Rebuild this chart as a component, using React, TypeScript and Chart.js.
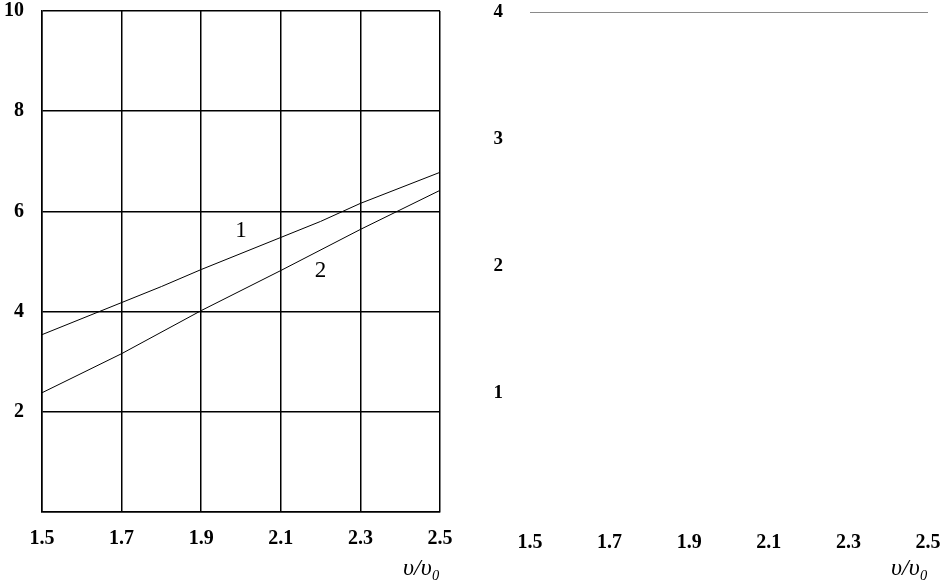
import React, { useEffect, useRef } from "react";
import { Chart, registerables } from "chart.js";

Chart.register(...registerables);

// ---- data ----
const curve1X = [1.5, 1.7, 1.8, 1.9, 2.1, 2.2, 2.3, 2.5];
const curve1Y = [3.54, 4.18, 4.5, 4.84, 5.48, 5.8, 6.16, 6.78];
const curve2X = [1.5, 1.7, 1.9, 2.1, 2.3, 2.5];
const curve2Y = [2.38, 3.16, 4.02, 4.82, 5.64, 6.42];
const xTicks = [1.5, 1.7, 1.9, 2.1, 2.3, 2.5];
const leftYTicks = [0, 2, 4, 6, 8, 10];
const rightYTicks = [0, 1, 2, 3, 4];
const curveLabels = ["1", "2"];
const curveLabelX = [2.0, 2.2];
const curveLabelY = [5.6, 4.82];
const axisTitle = "υ/υ₀";

const SERIF = "'Liberation Serif', 'Times New Roman', 'DejaVu Serif', serif";

const labelPlugin = {
  id: "curveLabels",
  afterDatasetsDraw(chart: any) {
    const { ctx, scales } = chart;
    ctx.save();
    ctx.fillStyle = "#000";
    ctx.font = `23px ${SERIF}`;
    ctx.textAlign = "center";
    ctx.textBaseline = "middle";
    curveLabels.forEach((t, i) => {
      ctx.fillText(t, scales.x.getPixelForValue(curveLabelX[i]), scales.y.getPixelForValue(curveLabelY[i]));
    });
    ctx.restore();
  },
};

function fixY(width: number) {
  return (s: any) => {
    s.width = width;
    s.paddingTop = 0;
    s.paddingBottom = 0;
  };
}
function fixX(height: number) {
  return (s: any) => {
    s.height = height;
    s.paddingLeft = 0;
    s.paddingRight = 0;
  };
}

function LeftChart() {
  const ref = useRef<HTMLCanvasElement>(null);
  useEffect(() => {
    const chart = new Chart(ref.current!, {
      type: "line",
      data: {
        datasets: [
          {
            data: curve1X.map((x, i) => ({ x, y: curve1Y[i] })),
            borderColor: "#000",
            borderWidth: 1,
            pointRadius: 0,
            tension: 0,
          },
          {
            data: curve2X.map((x, i) => ({ x, y: curve2Y[i] })),
            borderColor: "#000",
            borderWidth: 1,
            pointRadius: 0,
            tension: 0,
          },
        ],
      },
      options: {
        animation: false,
        responsive: false,
        layout: { padding: { left: 0, right: 20, top: 11, bottom: 0 } },
        plugins: { legend: { display: false }, tooltip: { enabled: false } },
        scales: {
          x: {
            type: "linear",
            min: 1.5,
            max: 2.5,
            afterBuildTicks: (s: any) => {
              s.ticks = xTicks.map((v) => ({ value: v }));
            },
            afterFit: fixX(71),
            ticks: {
              color: "#000",
              font: { family: SERIF, size: 20, weight: "bold" },
              padding: 15,
              maxRotation: 0,
              autoSkip: false,
              callback: (v: any) => Number(v).toFixed(1),
            },
            grid: { color: "#000", lineWidth: 1.5, drawTicks: false },
            border: { color: "#000", width: 1.5 },
            title: {
              display: true,
              text: axisTitle,
              align: "end",
              color: "#000",
              font: { family: SERIF, size: 24, style: "italic" },
              padding: { top: 0, bottom: 0 },
            },
          },
          y: {
            min: 0,
            max: 10,
            afterBuildTicks: (s: any) => {
              s.ticks = leftYTicks.map((v) => ({ value: v }));
            },
            afterFit: fixY(42),
            ticks: {
              color: "#000",
              font: { family: SERIF, size: 20, weight: "bold" },
              padding: 18,
              callback: (v: any) => (v === 0 ? "" : String(v)),
            },
            grid: { color: "#000", lineWidth: 1.5, drawTicks: false },
            border: { color: "#000", width: 1.5 },
          },
        },
      } as any,
      plugins: [labelPlugin],
    });
    return () => chart.destroy();
  }, []);
  return (
    <canvas
      ref={ref}
      width={460}
      height={583}
      style={{ position: "absolute", left: 0, top: 0, width: 460, height: 583 }}
    />
  );
}

function RightChart() {
  const ref = useRef<HTMLCanvasElement>(null);
  useEffect(() => {
    const chart = new Chart(ref.current!, {
      type: "line",
      data: { datasets: [{ data: [], borderColor: "#000", pointRadius: 0 }] },
      options: {
        animation: false,
        responsive: false,
        layout: { padding: { left: 0, right: 16, top: 12, bottom: 0 } },
        plugins: { legend: { display: false }, tooltip: { enabled: false } },
        scales: {
          x: {
            type: "linear",
            min: 1.5,
            max: 2.5,
            afterBuildTicks: (s: any) => {
              s.ticks = xTicks.map((v) => ({ value: v }));
            },
            afterFit: fixX(63),
            ticks: {
              color: "#000",
              font: { family: SERIF, size: 20, weight: "bold" },
              padding: 3,
              maxRotation: 0,
              autoSkip: false,
              callback: (v: any) => Number(v).toFixed(1),
            },
            grid: { display: false },
            border: { display: false },
            title: {
              display: true,
              text: axisTitle,
              align: "end",
              color: "#000",
              font: { family: SERIF, size: 24, style: "italic" },
              padding: { top: 0, bottom: 0 },
            },
          },
          y: {
            min: 0,
            max: 4,
            afterBuildTicks: (s: any) => {
              s.ticks = rightYTicks.map((v) => ({ value: v }));
            },
            afterFit: fixY(60),
            ticks: {
              color: "#000",
              font: { family: SERIF, size: 19, weight: "bold" },
              padding: 27,
              callback: (v: any) => (v === 0 ? "" : String(v)),
            },
            grid: {
              drawTicks: false,
              lineWidth: 1,
              color: (c: any) => (c.tick && c.tick.value === 4 ? "#8a8a8a" : "rgba(0,0,0,0)"),
            },
            border: { display: false },
          },
        },
      } as any,
    });
    return () => chart.destroy();
  }, []);
  return (
    <canvas
      ref={ref}
      width={474}
      height={583}
      style={{ position: "absolute", left: 470, top: 0, width: 474, height: 583 }}
    />
  );
}

export default function App() {
  return (
    <div
      style={{
        position: "absolute",
        left: 0,
        top: 0,
        width: 944,
        height: 583,
        background: "#fff",
        overflow: "hidden",
      }}
    >
      <LeftChart />
      <RightChart />
    </div>
  );
}
